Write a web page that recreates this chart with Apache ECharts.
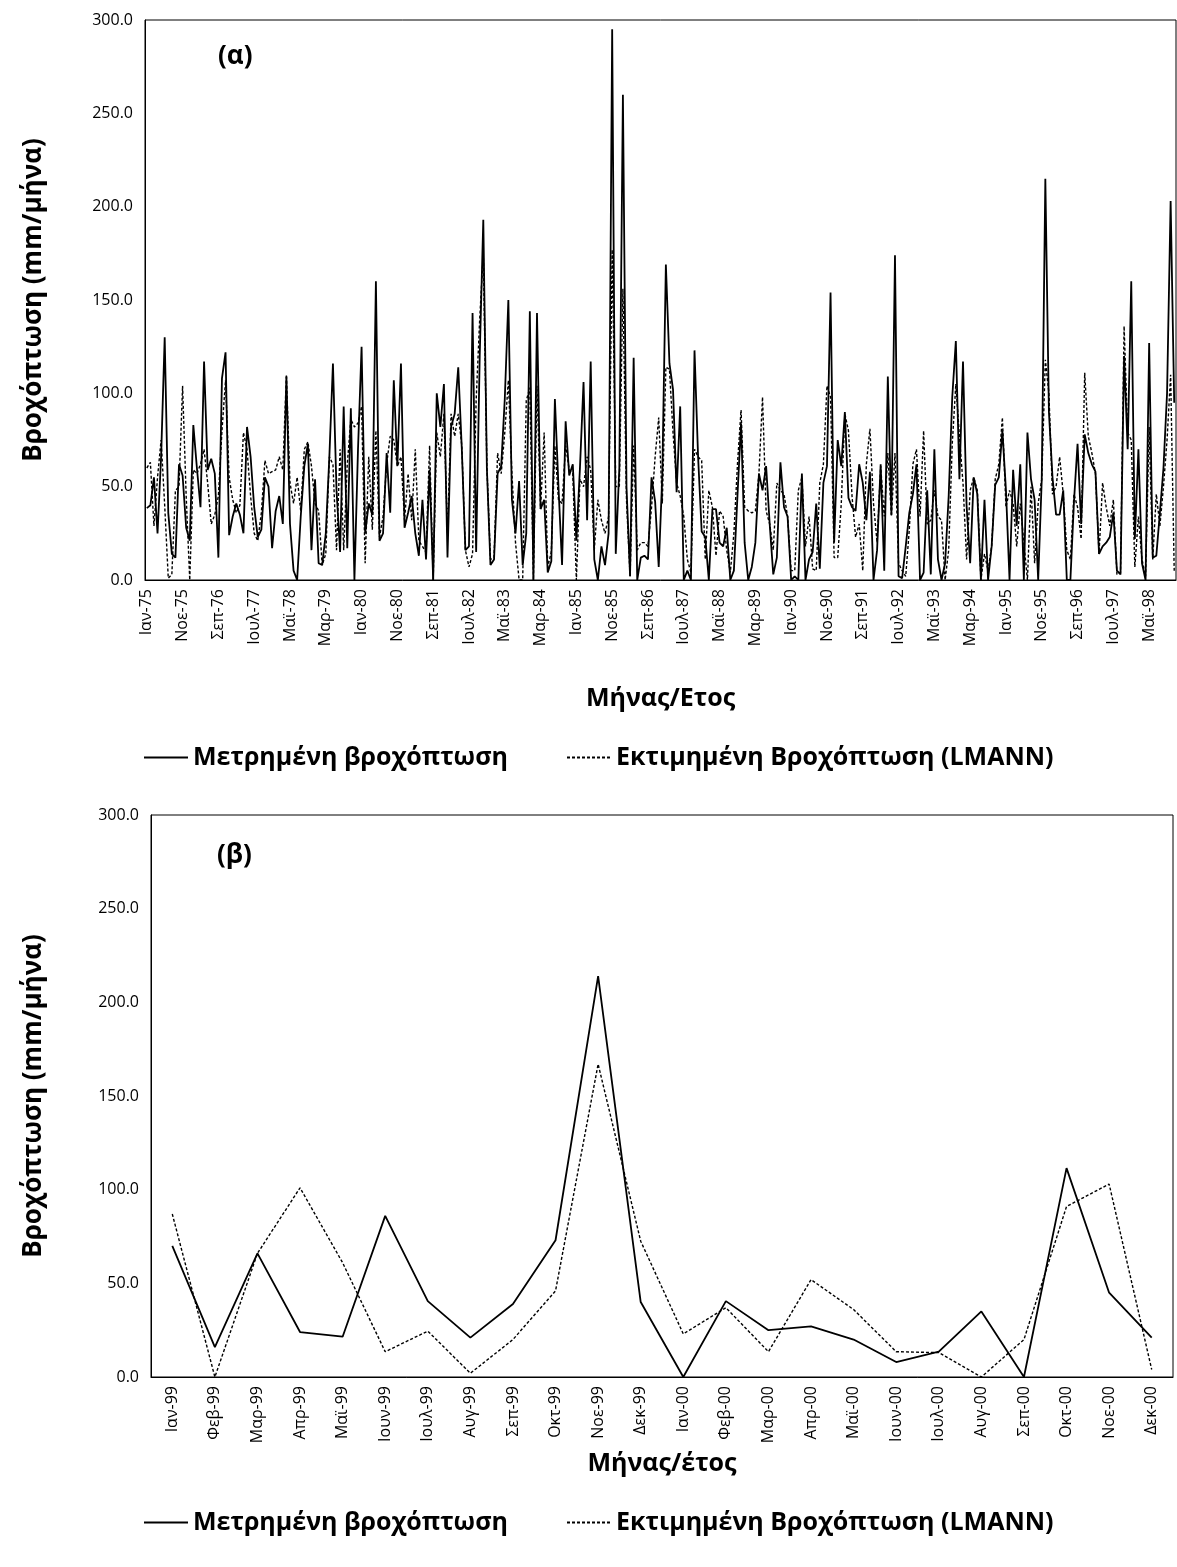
<!DOCTYPE html>
<html>
<head>
<meta charset="utf-8">
<script src="https://cdn.jsdelivr.net/npm/echarts@6/dist/echarts.min.js"></script>
<style>
  html, body { margin: 0; padding: 0; background: #fff; }
  #chart { width: 1177px; height: 1567px; }
</style>
</head>
<body>
<div id="chart"></div>
<script>
// month abbreviations used on the category axes
var monthNames = ['Ιαν', 'Φεβ', 'Μαρ', 'Απρ', 'Μαϊ', 'Ιουν', 'Ιουλ', 'Αυγ', 'Σεπ', 'Οκτ', 'Νοε', 'Δεκ'];
var yearsTop = ['75', '76', '77', '78', '79', '80', '81', '82', '83', '84', '85', '86',
  '87', '88', '89', '90', '91', '92', '93', '94', '95', '96', '97', '98'];
var yearsBottom = ['99', '00'];
var yTicks = [0, 50, 100, 150, 200, 250, 300];

// (α) Ιαν-75 ... Δεκ-98, mm/μήνα
var measuredTop = [
  38.5, 40, 55, 25, 66, 130, 36, 14, 12, 62, 56, 28, 21, 83, 60, 39, 117, 59, 65, 57, 12, 108, 122, 24,
  34, 41, 35, 25, 82, 66, 39, 23, 27, 55, 50, 17,
  37, 45, 30, 109, 30, 5, 0, 34, 61, 73, 16, 54, 9, 8, 25, 66, 116, 48, 15, 93, 17, 92, 0, 70,
  125, 25, 41, 35, 160, 21, 25, 68, 36, 107, 61,
  116, 28, 36, 45, 25, 13, 43, 11, 59, 0, 100, 82, 105, 12, 82, 89, 114, 70, 16, 18, 143, 15,
  120, 193, 60, 8, 11, 57, 61, 97, 150, 43, 25, 53, 8, 25, 144, 0, 143, 38, 43, 4, 10, 97,
  50, 8, 85, 56, 62, 21, 60, 106, 32, 117, 11, 0, 18, 8, 25, 295, 14, 60, 260, 50, 2, 119, 0,
  12, 13, 11, 55, 42, 7, 56, 169, 116, 102, 47, 93, 0, 5, 0, 123, 66, 26, 23, 0, 38, 38, 20,
  18, 28, 0, 5, 45, 84, 20, 0, 7, 20, 57, 48, 61, 30, 3, 12, 63, 39, 34, 0, 2, 0, 57, 0,
  11, 15, 41, 6, 52, 61, 154, 20, 75, 61, 90, 44, 39, 37, 62, 52, 32, 58, 0, 16, 62,
  5, 109, 35, 174, 2, 1, 18, 36, 46, 62, 0, 4, 48, 3, 70, 11, 0, 9, 45, 98, 128, 54, 117,
  40, 9, 55, 46, 0, 43, 0, 18, 51, 55, 80, 48, 0, 59, 29, 62, 0, 79, 54, 43, 0, 54, 215,
  90, 55, 35, 35, 48, 0, 0, 42, 73, 30, 78, 68, 62, 58, 14, 18, 20, 23, 36, 5, 3, 120,
  70, 160, 22, 70, 9, 0, 127, 12, 13, 36, 60, 100, 203, 95
];
var estimatedTop = [
  60, 63, 29, 55, 75, 40, 1, 3, 48, 50, 104, 45, 0, 59, 57, 62, 70, 52, 30, 35, 45, 80, 107, 55,
  43, 36, 40, 79, 70, 45, 25, 21, 36, 64, 57, 58,
  59, 66, 59, 110, 52, 41, 55, 37, 70, 74, 61, 41, 37, 8, 14, 66, 62, 16, 70, 16, 62, 86, 82, 84,
  93, 9, 66, 27, 80, 23, 34, 62, 77, 75, 61,
  66, 32, 57, 32, 70, 21, 18, 15, 72, 0, 79, 66, 89, 25, 89, 77, 89, 72, 16, 7, 14, 96,
  140, 175, 61, 11, 12, 68, 57, 79, 107, 57, 20, 0, 0, 96, 103, 0, 104, 38, 79, 7, 15, 72,
  43, 41, 72, 59, 57, 0, 54, 50, 66, 59, 16, 43, 32, 25, 34, 177, 50, 50, 156, 43, 2, 72, 16,
  20, 20, 18, 39, 66, 87, 41, 114, 113, 79, 52, 45, 34, 11, 4, 70, 66, 64, 11, 48, 39, 13, 37,
  34, 16, 4, 25, 62, 91, 39, 37, 36, 37, 57, 98, 37, 30, 16, 52, 48, 46, 34, 5, 5, 48, 55, 18,
  34, 6, 5, 52, 62, 104, 98, 12, 12, 41, 89, 80, 45, 23, 30, 5, 62, 81, 41, 20, 61,
  34, 68, 34, 68, 9, 5, 2, 27, 62, 70, 34, 80, 30, 32, 48, 34, 32, 0, 16, 73, 105, 77, 52,
  11, 48, 55, 48, 0, 14, 5, 18, 54, 62, 87, 39, 48, 41, 18, 41, 20, 0, 50, 9, 41, 54, 118,
  100, 46, 50, 66, 46, 16, 11, 46, 39, 22, 111, 77, 68, 57, 14, 52, 39, 29, 43, 3, 4, 136,
  79, 75, 7, 34, 11, 2, 82, 11, 46, 29, 50, 75, 110, 5
];

// (β) Ιαν-99 ... Δεκ-00
var measuredBottom = [70, 16, 66, 24, 21.5, 86, 40.5, 21, 39, 73, 214, 40,
  0, 40.5, 25, 27, 20, 8, 13.5, 35, 0, 111.5, 45, 21];
var estimatedBottom = [87, 0, 66, 101, 61, 13.5, 24.5, 2, 20, 46, 167, 72.5,
  23, 37, 13.5, 52, 36, 13.5, 13, 0, 20, 91, 103, 4];

function monthLabels (years) {
  var out = [];
  years.forEach(function (y) {
    monthNames.forEach(function (m) { out.push(m + '-' + y); });
  });
  return out;
}
var catsTop = monthLabels(yearsTop);
var catsBottom = monthLabels(yearsBottom);

var FONT = "'Open Sans', sans-serif";
var nameMeasured = 'Μετρημένη βροχόπτωση';
var nameEstimated = 'Εκτιμημένη Βροχόπτωση (LMANN)';

function yAxisDef (gridIndex, gap) {
  return {
    type: 'value',
    gridIndex: gridIndex,
    min: yTicks[0],
    max: yTicks[yTicks.length - 1],
    interval: 50,
    name: 'Βροχόπτωση (mm/μήνα)',
    nameLocation: 'middle',
    nameGap: gap,
    nameTextStyle: { fontFamily: FONT, fontSize: 26, fontWeight: 'bold', color: '#000' },
    axisLine: { show: true, lineStyle: { color: '#000', width: 1 } },
    axisTick: { show: false },
    splitLine: { show: false },
    axisLabel: {
      fontFamily: FONT, fontSize: 16, color: '#000', margin: 12,
      formatter: function (v) { return v.toFixed(1) }
    }
  }
}

function legendDef (name, left, top) {
  return {
    data: [name],
    left: left,
    top: top,
    padding: 0,
    itemWidth: 44,
    itemHeight: 14,
    itemGap: 0,
    selectedMode: false,
    itemStyle: { opacity: 0 },
    textStyle: { fontFamily: FONT, fontSize: 25, fontWeight: 'bold', color: '#000' }
  }
}

var solidLine = { color: '#000', width: 1.8, type: 'solid' };
var dashLine = { color: '#000', width: 1.4, type: [3, 2] };

var myChart = echarts.init(document.getElementById('chart'), null, { renderer: 'canvas' });
myChart.setOption({
  animation: false,
  backgroundColor: '#fff',
  grid: [
    { left: 145, top: 20, width: 1031, height: 560, show: true, borderColor: '#000', borderWidth: 1 },
    { left: 151, top: 815, width: 1022, height: 562, show: true, borderColor: '#000', borderWidth: 1 }
  ],
  xAxis: [
    {
      type: 'category',
      gridIndex: 0,
      data: catsTop,
      boundaryGap: true,
      name: 'Μήνας/Ετος',
      nameLocation: 'middle',
      nameGap: 106,
      nameTextStyle: { fontFamily: FONT, fontSize: 25, fontWeight: 'bold', color: '#000' },
      axisLine: { lineStyle: { color: '#000', width: 1 } },
      axisTick: { interval: 9, length: 6, lineStyle: { color: '#000' } },
      axisLabel: { interval: 9, rotate: 90, fontFamily: FONT, fontSize: 16, color: '#000', margin: 9 }
    },
    {
      type: 'category',
      gridIndex: 1,
      data: catsBottom,
      boundaryGap: true,
      name: 'Μήνας/έτος',
      nameLocation: 'middle',
      nameGap: 74,
      nameTextStyle: { fontFamily: FONT, fontSize: 25, fontWeight: 'bold', color: '#000' },
      axisLine: { lineStyle: { color: '#000', width: 1 } },
      axisTick: { interval: 0, length: 6, lineStyle: { color: '#000' } },
      axisLabel: { interval: 0, rotate: 90, fontFamily: FONT, fontSize: 16, color: '#000', margin: 9 }
    }
  ],
  yAxis: [yAxisDef(0, 98), yAxisDef(1, 104)],
  legend: [
    legendDef(nameMeasured, 143, 745),
    legendDef(nameEstimated, 566, 745),
    legendDef(nameMeasured, 143, 1510),
    legendDef(nameEstimated, 566, 1510)
  ],
  graphic: [
    { type: 'text', left: 218, top: 44, style: { text: '(α)', font: 'bold 26px ' + FONT, fill: '#000' } },
    { type: 'text', left: 217, top: 843, style: { text: '(β)', font: 'bold 26px ' + FONT, fill: '#000' } }
  ],
  series: [
    { name: nameMeasured, type: 'line', xAxisIndex: 0, yAxisIndex: 0, data: measuredTop,
      symbol: 'none', lineStyle: solidLine, itemStyle: { color: '#000' } },
    { name: nameEstimated, type: 'line', xAxisIndex: 0, yAxisIndex: 0, data: estimatedTop,
      symbol: 'none', lineStyle: dashLine, itemStyle: { color: '#000' } },
    { name: nameMeasured, type: 'line', xAxisIndex: 1, yAxisIndex: 1, data: measuredBottom,
      symbol: 'none', lineStyle: solidLine, itemStyle: { color: '#000' } },
    { name: nameEstimated, type: 'line', xAxisIndex: 1, yAxisIndex: 1, data: estimatedBottom,
      symbol: 'none', lineStyle: dashLine, itemStyle: { color: '#000' } }
  ]
})
</script>
</body>
</html>
